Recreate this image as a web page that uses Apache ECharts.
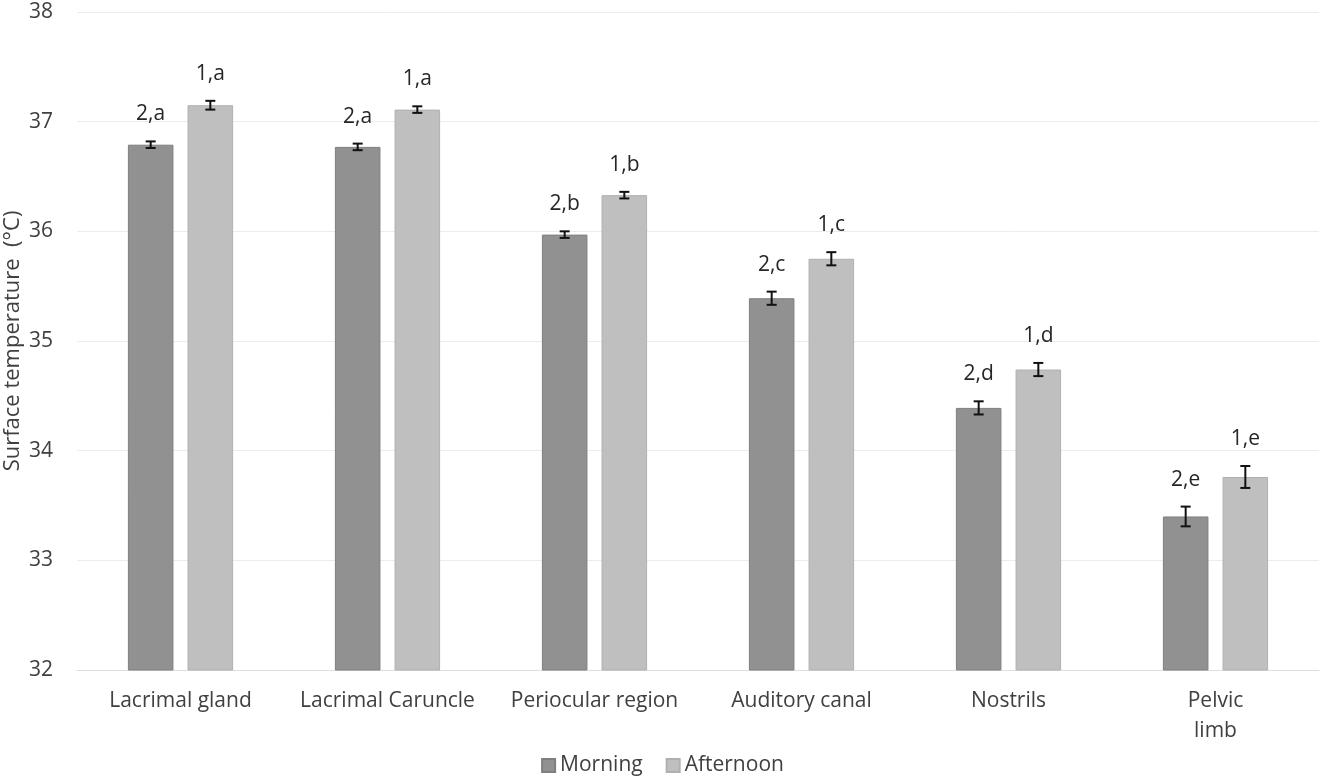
<!DOCTYPE html>
<html>
<head>
<meta charset="utf-8">
<script src="https://cdn.jsdelivr.net/npm/echarts@6/dist/echarts.min.js"></script>
<style>
  html, body { margin: 0; padding: 0; background: #fff; }
  #chart { width: 1325px; height: 780px; }
</style>
</head>
<body>
<div id="chart"></div>
<script>
// data
const categories = ['Lacrimal gland', 'Lacrimal Caruncle', 'Periocular region', 'Auditory canal', 'Nostrils', 'Pelvic\nlimb'];
const morning = [36.79, 36.77, 35.97, 35.39, 34.39, 33.40];
const afternoon = [37.15, 37.11, 36.33, 35.75, 34.74, 33.76];
const morningErr = [0.03, 0.03, 0.03, 0.06, 0.06, 0.09];
const afternoonErr = [0.04, 0.03, 0.03, 0.06, 0.06, 0.10];
const morningLabels = ['2,a', '2,a', '2,b', '2,c', '2,d', '2,e'];
const afternoonLabels = ['1,a', '1,a', '1,b', '1,c', '1,d', '1,e'];

const FONT = '"Open Sans", "Noto Sans", sans-serif';
const BAR_W = 0.22;   // share of category band
const BAR_GAP = 0.31; // share of bar width

function errorBars(side, labels) {
    return function (params, api) {
        const i = api.value(0);
        const v = api.value(1);
        const e = api.value(2);
        const band = api.size([1, 0])[0];
        const dx = side * band * BAR_W * (1 + BAR_GAP) / 2;
        const top = api.coord([i, v + e]);
        const bot = api.coord([i, v - e]);
        const x = top[0] + dx;
        const cap = 5;
        const st = { stroke: '#111', lineWidth: 2 };
        return {
            type: 'group',
            children: [
                { type: 'line', shape: { x1: x, y1: top[1], x2: x, y2: bot[1] }, style: st },
                { type: 'line', shape: { x1: x - cap, y1: top[1], x2: x + cap, y2: top[1] }, style: st },
                { type: 'line', shape: { x1: x - cap, y1: bot[1], x2: x + cap, y2: bot[1] }, style: st },
                {
                    type: 'text',
                    style: {
                        text: labels[params.dataIndex],
                        x: x,
                        y: top[1] - 27,
                        align: 'center',
                        verticalAlign: 'middle',
                        font: '21px ' + FONT,
                        fill: '#262626'
                    }
                }
            ]
        };
    };
}

const chart = echarts.init(document.getElementById('chart'));
chart.setOption({
    animation: false,
    textStyle: { fontFamily: FONT },
    grid: { left: 77, right: 6, top: 12, bottom: 110, containLabel: false, outerBoundsMode: 'none' },
    legend: {
        data: ['Morning', 'Afternoon'],
        top: 750,
        left: 'center',
        icon: 'rect',
        itemWidth: 13,
        itemHeight: 13,
        itemGap: 23,
        textStyle: { fontSize: 21, color: '#404040', fontFamily: FONT }
    },
    xAxis: {
        type: 'category',
        data: categories,
        axisLine: { lineStyle: { color: '#dedede' } },
        axisTick: { show: false },
        axisLabel: { fontSize: 21, color: '#404040', margin: 16, lineHeight: 30, interval: 0 }
    },
    yAxis: {
        type: 'value',
        min: 32,
        max: 38,
        interval: 1,
        name: 'Surface temperature  (°C)',
        nameLocation: 'middle',
        nameRotate: 90,
        nameGap: 64,
        nameMoveOverlap: false,
        nameTextStyle: { fontSize: 22, color: '#404040', verticalAlign: 'middle', align: 'center', padding: [0, 0, 0, 0] },
        axisLabel: { fontSize: 21, color: '#404040', margin: 24 },
        splitLine: { lineStyle: { color: '#ececec' } }
    },
    series: [
        {
            name: 'Morning',
            type: 'bar',
            data: morning,
            barWidth: (BAR_W * 100) + '%',
            barGap: (BAR_GAP * 100) + '%',
            itemStyle: { color: '#919191', borderColor: '#7f7f7f', borderWidth: 1 }
        },
        {
            name: 'Afternoon',
            type: 'bar',
            data: afternoon,
            barWidth: (BAR_W * 100) + '%',
            barGap: (BAR_GAP * 100) + '%',
            itemStyle: { color: '#bfbfbf', borderColor: '#b0b0b0', borderWidth: 1 }
        },
        {
            type: 'custom',
            renderItem: errorBars(-1, morningLabels),
            data: morning.map((v, i) => [i, v, morningErr[i]]),
            encode: { x: 0, y: 1 },
            z: 5
        },
        {
            type: 'custom',
            renderItem: errorBars(1, afternoonLabels),
            data: afternoon.map((v, i) => [i, v, afternoonErr[i]]),
            encode: { x: 0, y: 1 },
            z: 5
        }
    ]
});
</script>
</body>
</html>
